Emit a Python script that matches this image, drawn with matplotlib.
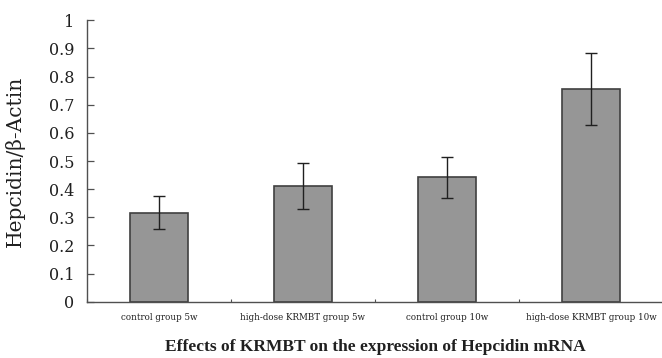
import matplotlib
matplotlib.use("Agg")
import matplotlib.pyplot as plt
import numpy as np

categories = ["control group 5w", "high-dose KRMBT group 5w",
              "control group 10w", "high-dose KRMBT group 10w"]
values = [0.316, 0.410, 0.442, 0.757]
errors = [0.058, 0.082, 0.072, 0.128]
yticks = [0, 0.1, 0.2, 0.3, 0.4, 0.5, 0.6, 0.7, 0.8, 0.9, 1]
ytick_labels = ["0", "0.1", "0.2", "0.3", "0.4", "0.5", "0.6", "0.7", "0.8", "0.9", "1"]
ylabel = "Hepcidin/β-Actin"
title = "Effects of KRMBT on the expression of Hepcidin mRNA"

W, H = 662, 358
fig = plt.figure(figsize=(W / 100, H / 100), dpi=100)
ax = fig.add_axes([87 / W, 1 - 301.7 / H, (663 - 87) / W, (301.7 - 20.3) / H])

x = np.arange(len(categories))
axc = "#505050"
ax.bar(x, values, width=0.4, color="#969696", edgecolor="#404040", linewidth=1.2, zorder=2)
ax.errorbar(x, values, yerr=errors, fmt="none", ecolor="#202020", elinewidth=1.0,
            capsize=4, capthick=1.0, zorder=3)

ax.set_xlim(-0.5, len(categories) - 0.5)
ax.set_ylim(0, 1)
ax.set_yticks(yticks)
ax.set_yticklabels(ytick_labels, fontfamily="DejaVu Serif", fontsize=11.5, color="#202020")
ax.set_xticks(x)
ax.set_xticklabels(categories, fontfamily="DejaVu Serif", fontsize=6.3, color="#202020")
ax.set_xticks(np.arange(len(categories) + 1) - 0.5, minor=True)
ax.tick_params(axis="x", which="major", length=0, pad=8)
ax.tick_params(axis="x", which="minor", direction="in", length=2.5, width=0.8, color=axc)
ax.tick_params(axis="y", direction="in", length=5, width=0.9, color=axc, pad=9)

for s in ["top", "right"]:
    ax.spines[s].set_visible(False)
for s in ["left", "bottom"]:
    ax.spines[s].set_color(axc)
    ax.spines[s].set_linewidth(1.0)

ax.set_ylabel(ylabel, fontfamily="DejaVu Serif", fontsize=14.5, color="#202020")
ax.yaxis.set_label_coords((25 - 87) / (663 - 87), 0.5)
fig.text(375 / W, 1 - 347 / H, title, ha="center", va="center",
         fontfamily="Liberation Serif", fontweight="bold", fontsize=12.5, color="#202020")

fig.savefig("out.png", dpi=100)
